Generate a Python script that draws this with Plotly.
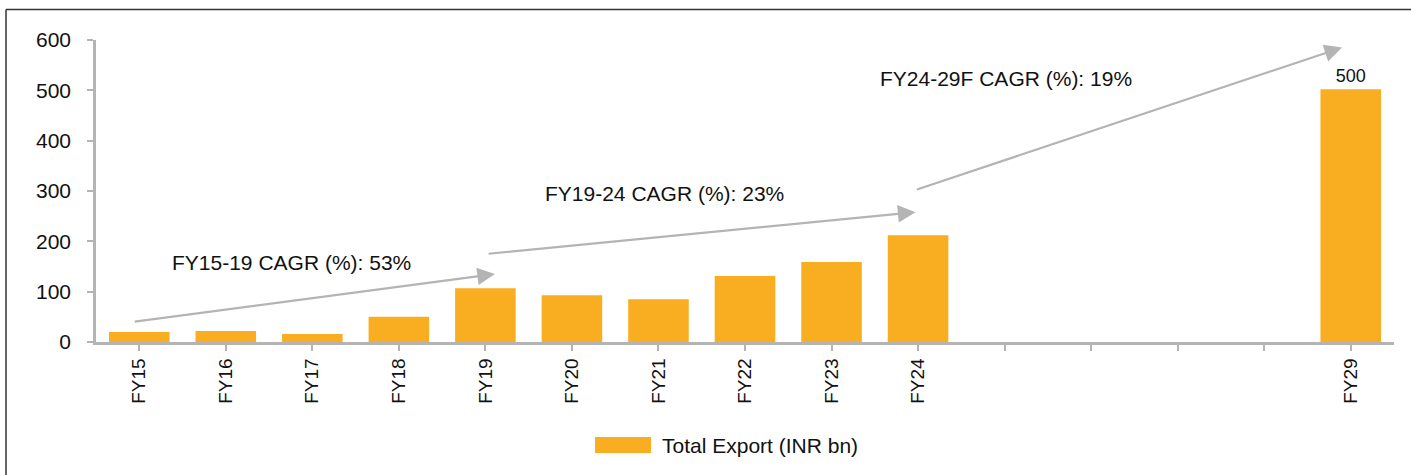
import plotly.graph_objects as go

# categories (FY25-FY28 are empty slots on the axis)
years = ["FY15", "FY16", "FY17", "FY18", "FY19", "FY20", "FY21", "FY22",
         "FY23", "FY24", "FY25", "FY26", "FY27", "FY28", "FY29"]
tick_labels = ["FY15", "FY16", "FY17", "FY18", "FY19", "FY20", "FY21", "FY22",
               "FY23", "FY24", "", "", "", "", "FY29"]
total_export = [20, 22, 16, 50, 107, 93, 85, 131, 159, 212,
                None, None, None, None, 502]
bar_labels = ["", "", "", "", "", "", "", "", "", "", "", "", "", "", "500"]

# CAGR arrows: (x0, y0, x1, y1) in axis units, and their captions
cagr_arrows = [
    (-0.07, 40, 4.11, 135),
    (4.02, 175, 8.97, 258),
    (8.97, 302, 13.9, 585),
]
cagr_texts = ["FY15-19 CAGR (%): 53%", "FY19-24 CAGR (%): 23%",
              "FY24-29F CAGR (%): 19%"]
cagr_text_pos = [(0.36, 157), (4.67, 296), (8.54, 524)]

BAR = "#F9AE21"
GREY = "#B4B4B4"
FONT = "Liberation Sans, Arial, sans-serif"

fig = go.Figure()

fig.add_trace(
    go.Bar(
        x=list(range(len(years))),
        y=total_export,
        name="Total Export (INR bn)",
        marker=dict(color=BAR, line=dict(width=0)),
        text=bar_labels,
        textposition="outside",
        cliponaxis=False,
        textfont=dict(size=18, color="#111111", family=FONT),
        showlegend=False,
    )
)

for (x0, y0, x1, y1) in cagr_arrows:
    fig.add_annotation(
        x=x1, y=y1, ax=x0, ay=y0,
        xref="x", yref="y", axref="x", ayref="y",
        showarrow=True, arrowhead=2, arrowsize=1.6, arrowwidth=2.2,
        arrowcolor=GREY, text="",
    )

for txt, (tx, ty) in zip(cagr_texts, cagr_text_pos):
    fig.add_annotation(
        x=tx, y=ty, xref="x", yref="y",
        text=txt, showarrow=False, xanchor="left", yanchor="middle",
        font=dict(size=21, color="#111111", family=FONT),
    )

# legend drawn by hand so the swatch matches the wide original
fig.add_shape(type="rect", xref="paper", yref="paper",
              x0=(595 - 96) / 1298, x1=(651 - 96) / 1298,
              y0=(342 - 453) / 302, y1=(342 - 437) / 302,
              fillcolor=BAR, line=dict(width=0))
fig.add_annotation(
    x=(660 - 96) / 1298, y=(342 - 445) / 302, xref="paper", yref="paper",
    text="Total Export (INR bn)", showarrow=False,
    xanchor="left", yanchor="middle",
    font=dict(size=21, color="#111111", family=FONT),
)

# outer frame (left and top edges)
fig.add_shape(type="line", xref="paper", yref="paper",
              x0=-90 / 1298, x1=-90 / 1298, y0=(342 - 9.5) / 302, y1=-0.5,
              line=dict(color="#333333", width=1.5))
fig.add_shape(type="line", xref="paper", yref="paper",
              x0=-90 / 1298, x1=1.02, y0=(342 - 9.5) / 302, y1=(342 - 9.5) / 302,
              line=dict(color="#333333", width=1.5))

fig.update_layout(
    width=1411,
    height=475,
    margin=dict(l=96, r=17, t=40, b=133),
    plot_bgcolor="white",
    paper_bgcolor="white",
    bargap=0.3,
    font=dict(family=FONT, color="#111111"),
    xaxis=dict(
        tickmode="array",
        tickvals=list(range(len(years))),
        ticktext=tick_labels,
        range=[-0.5, len(years) - 0.5],
        tickangle=-90,
        tickfont=dict(size=19, family=FONT, color="#111111"),
        showline=True, linecolor=GREY, linewidth=2.5,
        ticks="outside", ticklen=6, tickwidth=2, tickcolor=GREY,
        showgrid=False, zeroline=False,
    ),
    yaxis=dict(
        range=[0, 600],
        tickvals=[0, 100, 200, 300, 400, 500, 600],
        tickfont=dict(size=21, family=FONT, color="#111111"),
        showline=True, linecolor=GREY, linewidth=2.5,
        ticks="outside", ticklen=6, tickwidth=2, tickcolor=GREY,
        ticklabelstandoff=12,
        showgrid=False, zeroline=False,
    ),
)

# drop the page margin so the figure sits at the window's corner
fig.write_html(
    "out.html",
    config={"displayModeBar": False},
    post_script="document.body.style.margin='0';document.body.style.overflow='hidden';",
)
